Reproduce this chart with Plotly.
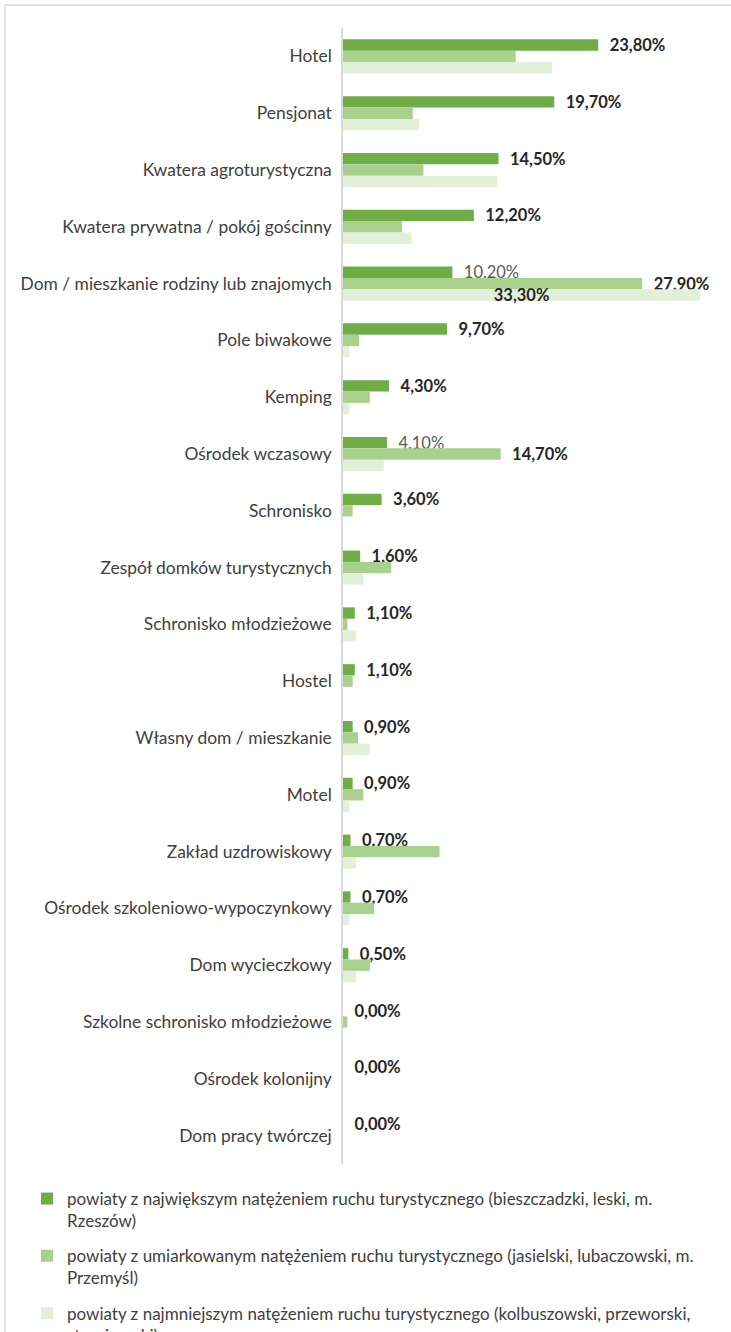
import plotly.graph_objects as go

categories = [
    "Hotel", "Pensjonat", "Kwatera agroturystyczna", "Kwatera prywatna / pokój gościnny",
    "Dom / mieszkanie rodziny lub znajomych", "Pole biwakowe", "Kemping", "Ośrodek wczasowy",
    "Schronisko", "Zespół domków turystycznych", "Schronisko młodzieżowe", "Hostel",
    "Własny dom / mieszkanie", "Motel", "Zakład uzdrowiskowy", "Ośrodek szkoleniowo-wypoczynkowy",
    "Dom wycieczkowy", "Szkolne schronisko młodzieżowe", "Ośrodek kolonijny", "Dom pracy twórczej",
]
high = [23.8, 19.7, 14.5, 12.2, 10.2, 9.7, 4.3, 4.1, 3.6, 1.6, 1.1, 1.1, 0.9, 0.9, 0.7, 0.7, 0.5, 0.0, 0.0, 0.0]
moderate = [16.1, 6.5, 7.5, 5.5, 27.9, 1.5, 2.5, 14.7, 0.9, 4.5, 0.4, 0.9, 1.4, 1.9, 9.0, 2.9, 2.5, 0.4, 0.0, 0.0]
low = [19.5, 7.1, 14.4, 6.4, 33.3, 0.6, 0.6, 3.8, 0.0, 1.9, 1.2, 0.0, 2.5, 0.6, 1.2, 0.6, 1.2, 0.0, 0.0, 0.0]

series_names = [
    "powiaty z największym natężeniem ruchu turystycznego (bieszczadzki, leski, m.<br>Rzeszów)",
    "powiaty z umiarkowanym natężeniem ruchu turystycznego (jasielski, lubaczowski, m.<br>Przemyśl)",
    "powiaty z najmniejszym natężeniem ruchu turystycznego (kolbuszowski, przeworski,<br>strzyżowski)",
]
colors = ["#70AD47", "#A9D18E", "#E2F0D9"]

# which labels are shown (and whether bold)
high_label_bold = [True] * 20
high_label_bold[4] = False
high_label_bold[7] = False
moderate_labeled = {4, 7}
low_labeled = {4}

def fmt(v):
    return f"{v:.2f}".replace(".", ",") + "%"

def lab(v, bold=True, pad=True):
    s = fmt(v)
    if bold:
        s = "<b>" + s + "</b>"
    else:
        s = "<span style='color:#595959'>" + s + "</span>"
    return ("\u00a0\u00a0" + s) if pad else s

high_text = [lab(v, b) for v, b in zip(high, high_label_bold)]
mod_text = [lab(v) if i in moderate_labeled else "" for i, v in enumerate(moderate)]
low_text = [lab(v, pad=False) if i in low_labeled else "" for i, v in enumerate(low)]
low_pos = ["inside" if i in low_labeled else "none" for i in range(len(low))]

FONT = "Lato"
fig = go.Figure()
for vals, name, col, txt, pos in [
    (high, series_names[0], colors[0], high_text, "outside"),
    (moderate, series_names[1], colors[1], mod_text, "outside"),
    (low, series_names[2], colors[2], low_text, low_pos),
]:
    fig.add_trace(go.Bar(
        y=categories, x=vals, orientation="h", name=name,
        marker=dict(color=col, line=dict(width=0)),
        text=txt, textposition=pos, insidetextanchor="middle",
        textfont=dict(family=FONT, size=16.5, color="#262626"),
        cliponaxis=False, legendgroup=name,
    ))

W, H = 731, 1332
L, R, T, B = 343, 18, 28, 168
pw, ph = W - L - R, H - T - B

def px(x):
    return (x - L) / pw

def py(y):
    return (H - B - y) / ph

fig.update_layout(
    width=W, height=H,
    margin=dict(l=L, r=R, t=T, b=B, autoexpand=False),
    barmode="group", bargap=0.40, bargroupgap=0,
    plot_bgcolor="white", paper_bgcolor="white",
    font=dict(family=FONT, size=16.5, color="#404040"),
    uniformtext=dict(minsize=16, mode="show"),
    xaxis=dict(range=[0, 34.5], showgrid=False, showticklabels=False, zeroline=False, showline=False),
    yaxis=dict(autorange="reversed", showgrid=False, showline=True, linecolor="#D9D9D9", linewidth=1.5,
               ticks="", ticklabelstandoff=6, tickfont=dict(family=FONT, size=17.4, color="#404040")),
    legend=dict(orientation="v", x=px(27), xanchor="left", y=py(1181), yanchor="top", valign="top",
                font=dict(family=FONT, size=17, color="#404040"), tracegroupgap=10,
                traceorder="grouped", maxheight=500, itemwidth=30),
    showlegend=True,
    shapes=[
        dict(type="line", xref="paper", yref="paper", x0=px(5), x1=px(W + 5), y0=py(5), y1=py(5),
             line=dict(color="#D9D9D9", width=1.5)),
        dict(type="line", xref="paper", yref="paper", x0=px(5), x1=px(5), y0=py(5), y1=py(H + 5),
             line=dict(color="#D9D9D9", width=1.5)),
    ],
)

fig.write_html("out.html")
